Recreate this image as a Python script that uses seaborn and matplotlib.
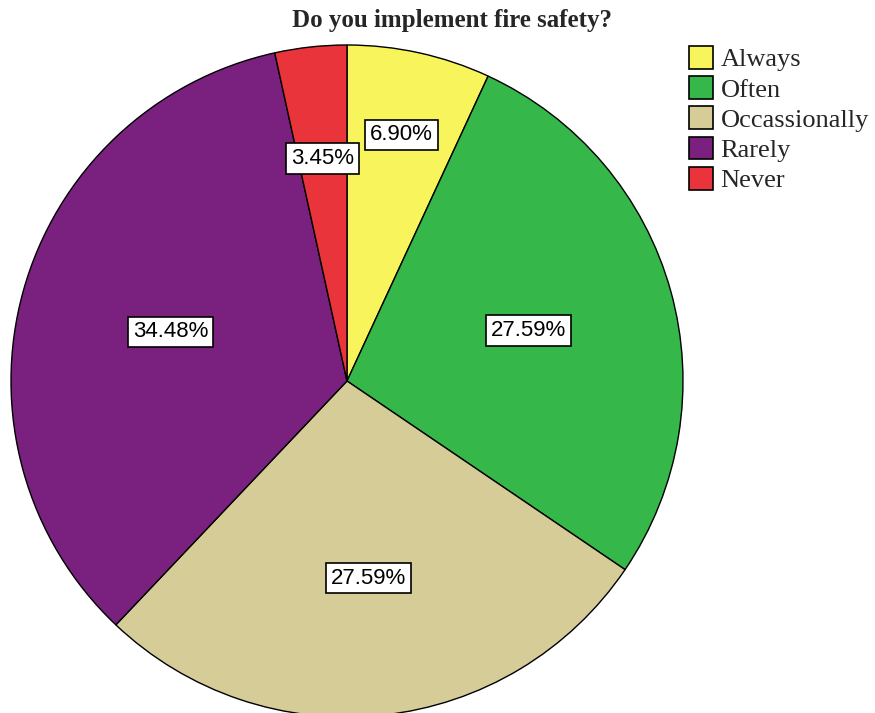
import matplotlib
matplotlib.use("Agg")
import matplotlib.pyplot as plt
import seaborn as sns
import numpy as np

categories = ["Always", "Often", "Occassionally", "Rarely", "Never"]
percentages = [6.90, 27.59, 27.59, 34.48, 3.45]
colors = ["#F8F45C", "#35B74A", "#D5CC98", "#7A2180", "#E8343A"]
label_radius = [0.75, 0.56, 0.59, 0.545, 0.665]
title = "Do you implement fire safety?"

sns.set_theme(style="white")
plt.rcParams['font.family'] = ['Liberation Sans', 'DejaVu Sans']

W, H = 875, 713
fig = plt.figure(figsize=(W / 100, H / 100), dpi=100)
cx, cy, R = 347, 381, 336
ax = fig.add_axes([(cx - R) / W, (H - cy - R) / H, 2 * R / W, 2 * R / H])

wedges, _ = ax.pie(percentages, colors=colors, startangle=90, counterclock=False,
                   wedgeprops=dict(edgecolor="black", linewidth=1.0), radius=1.0)
ax.set_xlim(-1, 1)
ax.set_ylim(-1, 1)
ax.set_aspect("equal")
ax.axis("off")

for w, p, rf in zip(wedges, percentages, label_radius):
    ang = np.deg2rad((w.theta1 + w.theta2) / 2)
    ax.text(rf * np.cos(ang), rf * np.sin(ang), f"{p:.2f}%", ha="center", va="center",
            fontsize=16, color="black", family=["Liberation Sans"],
            bbox=dict(boxstyle="square,pad=0.22", facecolor="white", edgecolor="black", linewidth=1.2))

fig.text(452 / W, 1 - 21 / H, title, ha="center", va="center", fontsize=18,
         fontweight="bold", family=["Liberation Serif"])

leg = fig.legend(wedges, categories, loc="upper left", bbox_to_anchor=(689 / W, 1 - 46 / H),
                 frameon=False, prop=dict(family="Liberation Serif", size=19),
                 handlelength=0.92, handleheight=0.95, handletextpad=0.28, labelspacing=0.18,
                 borderaxespad=0, borderpad=0)
for h in leg.legend_handles:
    h.set_edgecolor("black")
    h.set_linewidth(1.2)

fig.savefig("out.png", dpi=100, facecolor="white")
